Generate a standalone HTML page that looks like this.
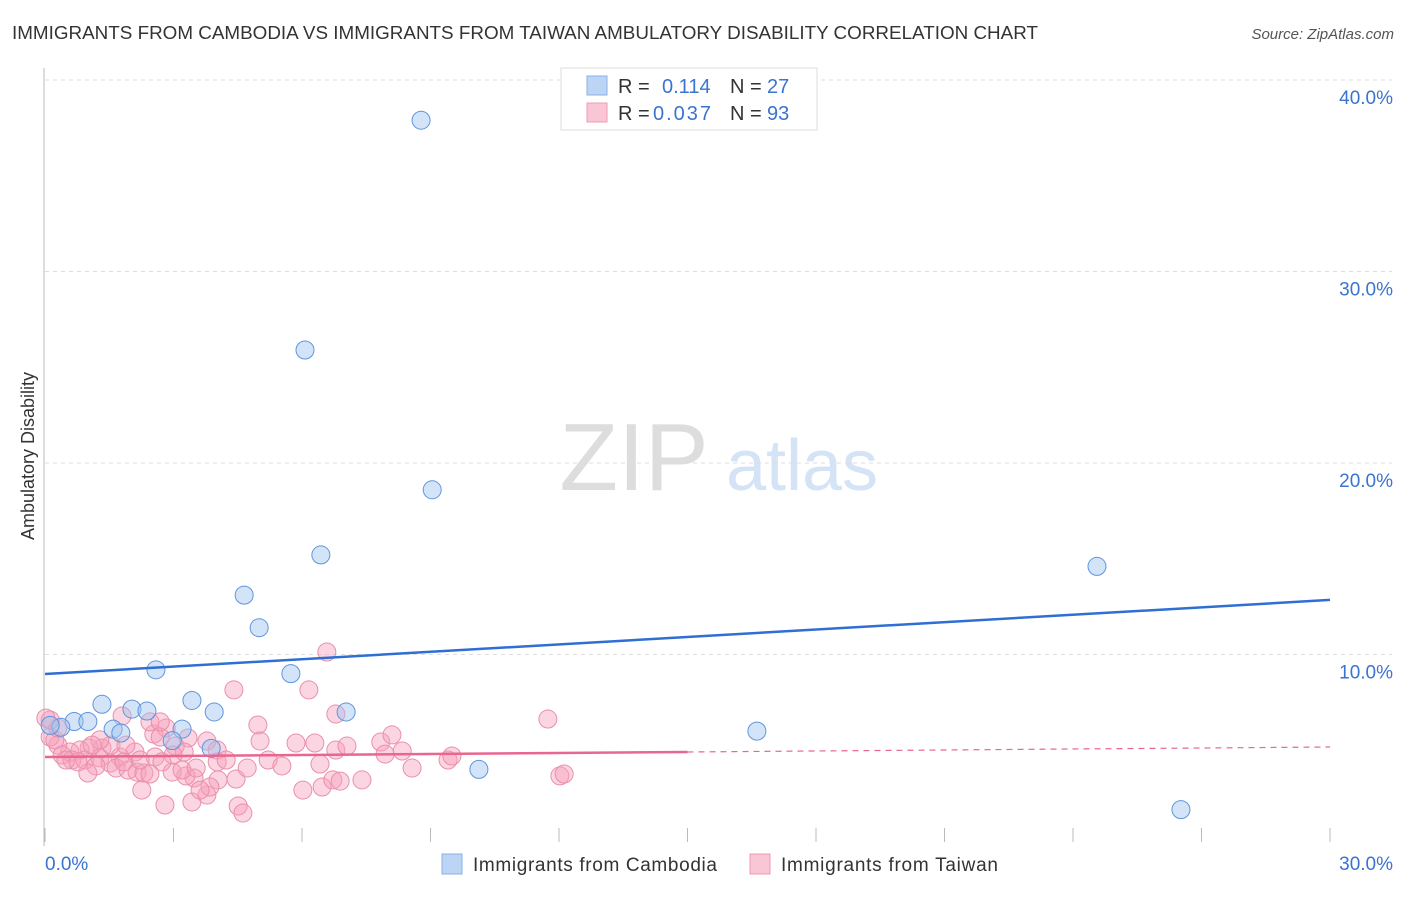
<!DOCTYPE html>
<html><head><meta charset="utf-8"><style>
body{margin:0;background:#fff;font-family:"Liberation Sans",sans-serif;}
svg text{font-family:"Liberation Sans",sans-serif;}
</style></head><body>
<svg id="c" width="1406" height="892" xmlns="http://www.w3.org/2000/svg">
<text x="12" y="39" font-size="18" fill="#333" textLength="1026" lengthAdjust="spacingAndGlyphs">IMMIGRANTS FROM CAMBODIA VS IMMIGRANTS FROM TAIWAN AMBULATORY DISABILITY CORRELATION CHART</text>
<text x="1394" y="39" font-size="15" fill="#555" font-style="italic" text-anchor="end">Source: ZipAtlas.com</text>
<text x="34" y="456" font-size="18" fill="#333" text-anchor="middle" transform="rotate(-90 34 456)">Ambulatory Disability</text>
<g>
<text x="634" y="490" font-size="96" fill="#ddd" font-family="Liberation Serif" text-anchor="middle">ZIP</text>
<text x="802" y="490" font-size="72" fill="#d4e3f5" text-anchor="middle">atlas</text>
</g>
<g id="grid"></g><g id="pts"></g><g id="lines"></g>
<g>
<rect x="561" y="68" width="256" height="62" fill="#fff" stroke="#ddd"/>
<rect x="587" y="76" width="20" height="19" fill="#bcd5f5" stroke="#8ab0e6"/>
<rect x="587" y="103" width="20" height="19" fill="#f9c6d5" stroke="#ee9bb5"/>
<text x="618" y="93" font-size="20" fill="#333">R = </text><text x="662" y="93" font-size="20" fill="#3a73d0">0.114</text>
<text x="730" y="93" font-size="20" fill="#333">N = </text><text x="767" y="93" font-size="20" fill="#3a73d0">27</text>
<text x="618" y="120" font-size="20" fill="#333">R = </text><text x="653" y="120" font-size="20" fill="#3a73d0" textLength="58">0.037</text>
<text x="730" y="120" font-size="20" fill="#333">N = </text><text x="767" y="120" font-size="20" fill="#3a73d0">93</text>
</g>
<g>
<rect x="442" y="854" width="20" height="20" fill="#bcd5f5" stroke="#8ab0e6"/>
<text x="473" y="871" font-size="19" fill="#333" textLength="244">Immigrants from Cambodia</text>
<rect x="750" y="854" width="20" height="20" fill="#f9c6d5" stroke="#ee9bb5"/>
<text x="781" y="871" font-size="19" fill="#333" textLength="217">Immigrants from Taiwan</text>
</g>
</svg>
<script>
const yTicks=[10,20,30,40];
const yTickLabels=["10.0%","20.0%","30.0%","40.0%"];
const xTickLabels=["0.0%","30.0%"];
const camX=[8.78,6.07,9.04,6.44,4.65,5.0,2.59,5.74,1.33,2.03,2.38,3.43,3.95,7.03,0.68,1.0,0.37,1.59,1.77,3.2,2.97,3.88,10.13,16.62,24.56,26.52,0.12];
const camY=[37.9,25.9,18.6,15.2,13.1,11.4,9.2,9.0,7.4,7.15,7.05,7.6,7.0,7.0,6.5,6.5,6.2,6.1,5.9,6.1,5.5,5.1,4.0,6.0,14.6,1.9,6.3];
const twX=[6.58,4.41,6.16,11.74,6.79,1.8,4.97,2.83,2.54,3.34,3.78,2.69,3.04,3.25,2.99,2.57,2.1,1.75,1.33,1.03,0.82,0.58,0.3,0.12,0.23,0.4,0.63,0.93,1.28,1.52,1.66,1.94,2.15,2.31,1.19,1.0,2.26,2.8,3.43,3.78,4.51,4.62,4.04,3.85,3.48,3.29,2.97,3.2,2.73,3.53,2.45,1.84,4.46,5.02,5.21,5.53,5.86,6.3,6.42,6.79,7.05,7.4,6.02,6.47,6.72,6.89,7.84,8.1,7.94,8.34,8.57,9.41,9.5,12.02,12.12,4.02,4.02,1.54,2.45,2.69,0.3,0.12,0.02,0.49,0.77,1.28,1.1,1.89,2.22,3.62,4.23,4.72];
const twY=[10.13,8.15,8.15,6.63,6.89,6.79,6.32,6.16,5.85,5.64,5.48,5.69,5.22,4.91,4.75,4.65,4.91,4.65,5.12,5.12,5.01,4.91,5.27,5.69,5.54,4.75,4.49,4.49,4.6,4.33,4.07,3.97,3.86,3.81,4.18,3.81,2.92,2.14,2.3,2.66,2.09,1.72,3.45,3.08,3.55,3.66,3.86,3.97,4.39,4.07,3.76,4.39,3.5,5.48,4.49,4.18,5.38,5.38,4.28,5.01,5.22,3.45,2.92,3.08,3.45,3.39,5.43,5.8,4.8,4.96,4.07,4.49,4.7,3.66,3.76,5.01,4.39,5.27,6.48,6.48,6.16,6.58,6.68,4.49,4.39,5.54,5.27,5.27,4.49,2.92,4.49,4.07];
const camTrend=[8.98,12.85];
const twTrend=[4.65,5.17];
const xMax=30, twSolidEnd=15;
const X=v=>45+v/xMax*1285;
const Y=v=>846-v*19.15;
const NS="http://www.w3.org/2000/svg";
function mk(tag,attrs,parent){const e=document.createElementNS(NS,tag);for(const k in attrs)e.setAttribute(k,attrs[k]);parent.appendChild(e);return e;}
const grid=document.getElementById('grid');
yTicks.forEach((t,i)=>{
 const l=mk('line',{x1:45,x2:1392,y1:Y(t),y2:Y(t),stroke:'#ddd','stroke-dasharray':'4 4'},grid);
 
 
 const tx=mk('text',{x:1393,y:Y(t)+24,'font-size':19,fill:'#3a73d0','text-anchor':'end'},grid);
 tx.textContent=yTickLabels[i];
 
 
});
const ax=mk('line',{x1:44,x2:44,y1:68,y2:846,stroke:'#bbb'},grid);


for(let i=0;i<=10;i++){
 const t=mk('line',{x1:X(i*3),x2:X(i*3),y1:828,y2:842,stroke:'#bbb'},grid);
 
 
}
[[0,'start',45],[1,'end',1393]].forEach(([i,a,x])=>{
 const t=mk('text',{x:x,y:870,'font-size':19,fill:'#3a73d0','text-anchor':a},grid);
 t.textContent=xTickLabels[i];
 
 
});
const pts=document.getElementById('pts');
twX.forEach((x,i)=>{
 const c=mk('circle',{cx:X(x),cy:Y(twY[i]),r:9,fill:'rgba(246,162,188,0.45)',stroke:'#ea8fac','stroke-width':1},pts);
 
 
});
camX.forEach((x,i)=>{
 const c=mk('circle',{cx:X(x),cy:Y(camY[i]),r:9,fill:'rgba(160,196,240,0.45)',stroke:'#5f95dd','stroke-width':1},pts);
 
 
});
const lines=document.getElementById('lines');
const b=mk('line',{x1:X(0),y1:Y(camTrend[0]),x2:X(xMax),y2:Y(camTrend[1]),stroke:'#2f6fd3','stroke-width':2.5},lines);


const tw=v=>twTrend[0]+(twTrend[1]-twTrend[0])*v/xMax;
const p1=mk('line',{x1:X(0),y1:Y(tw(0)),x2:X(twSolidEnd),y2:Y(tw(twSolidEnd)),stroke:'#e9668f','stroke-width':2.5},lines);


const p2=mk('line',{x1:X(twSolidEnd),y1:Y(tw(twSolidEnd)),x2:X(xMax),y2:Y(tw(xMax)),stroke:'#e9668f','stroke-width':1.2,'stroke-dasharray':'6 5'},lines);


</script>
</body></html>
